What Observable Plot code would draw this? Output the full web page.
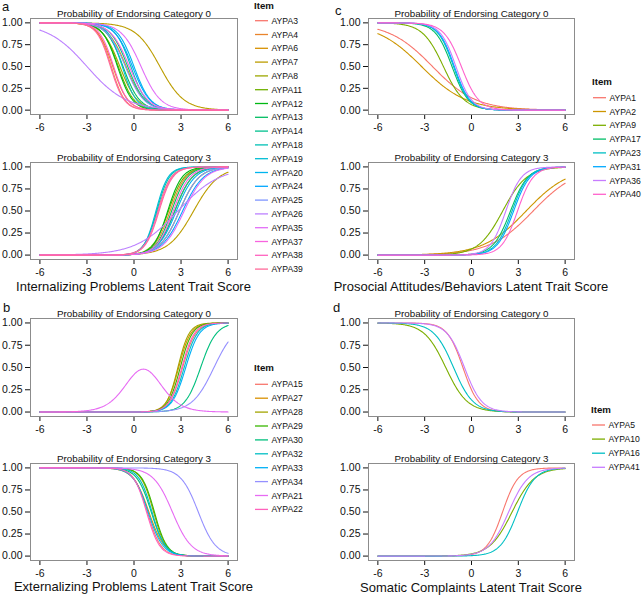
<!DOCTYPE html>
<html><head><meta charset="utf-8">
<script src="https://cdn.jsdelivr.net/npm/d3@7"></script>
<script src="https://cdn.jsdelivr.net/npm/@observablehq/plot@0.6"></script>
<style>
body{margin:0;background:#fff;}
#root{position:relative;width:643px;height:595px;overflow:hidden;font-family:"Liberation Sans",Arial,sans-serif;background:#fff;}
</style></head><body><div id="root"></div>
<script>
// ---------- data: item labels and read-off item parameters (location, slope) ----------
const itemsA = ["AYPA3","AYPA4","AYPA6","AYPA7","AYPA8","AYPA11","AYPA12","AYPA13","AYPA14","AYPA18","AYPA19","AYPA20","AYPA24","AYPA25","AYPA26","AYPA35","AYPA37","AYPA38","AYPA39"];
const aCat0Loc   = [-1.45,-1.35,-0.5,1.65,-0.9,-1.0,-1.05,-0.7,-0.4,-0.2,-0.75,0.0,-0.1,-0.55,-3.0,0.45,-0.3,-1.3,-1.5];
const aCat0Slope = [2.3,2.1,1.7,1.3,1.8,2.0,2.1,1.9,1.8,2.0,2.2,1.9,1.8,1.7,0.8,1.6,1.7,2.2,2.3];
const aCat3Loc   = [1.5,2.3,2.6,3.8,2.9,2.2,2.15,2.4,2.6,1.45,1.4,2.7,3.1,2.9,2.8,3.2,2.5,1.55,1.6];
const aCat3Slope = [2.3,2.0,1.8,1.25,1.6,2.0,2.2,2.0,1.8,2.5,2.6,1.7,1.5,1.6,0.75,1.5,1.9,2.3,2.3];

const itemsB = ["AYPA15","AYPA27","AYPA28","AYPA29","AYPA30","AYPA32","AYPA33","AYPA34","AYPA21","AYPA22"];
const bCat0Loc   = [3.1,2.85,2.8,2.95,4.25,3.2,3.3,5.1,-0.15,3.05];
const bCat0Upper = [null,null,null,null,null,null,null,null,1.35,null];
const bCat0Slope = [2.4,2.6,2.8,2.6,2.0,2.4,2.3,1.45,1.4,2.5];
const bCat3Loc   = [0.85,0.95,1.25,1.3,1.1,1.15,0.9,4.1,2.45,0.8];
const bCat3Slope = [2.3,2.0,2.5,2.5,2.2,2.4,2.1,1.8,1.65,2.4];

const itemsC = ["AYPA1","AYPA2","AYPA9","AYPA17","AYPA23","AYPA31","AYPA36","AYPA40"];
const cCat0Loc   = [-2.5,-3.2,-1.8,-1.25,-1.15,-1.1,-1.0,-0.65];
const cCat0Slope = [0.72,0.7,1.5,1.9,2.0,2.0,2.0,1.8];
const cCat3Loc   = [3.95,3.5,2.0,2.5,2.6,2.7,2.2,2.95];
const cCat3Slope = [0.72,0.73,1.3,1.8,1.9,1.9,2.0,2.0];

const itemsD = ["AYPA5","AYPA10","AYPA16","AYPA41"];
const dCat0Loc   = [-0.55,-1.65,-1.15,-0.45];
const dCat0Slope = [2.0,1.45,1.6,1.8];
const dCat3Loc   = [1.99,2.6,2.95,2.38];
const dCat3Slope = [2.0,1.4,1.8,1.6];

const xTicks = [-6,-3,0,3,6];
const yTicks = [0,0.25,0.5,0.75,1];
const titles = ["Probability of Endorsing Category 0","Probability of Endorsing Category 3"];
const axisTitles = ["Internalizing Problems Latent Trait Score","Externalizing Problems Latent Trait Score","Prosocial Attitudes/Behaviors Latent Trait Score","Somatic Complaints Latent Trait Score"];

// ---------- helpers ----------
function hueColor(h, c, l) { // polar CIE-Luv like R's hcl()
  const Xn=95.047, Yn=100, Zn=108.883;
  const den = Xn + 15*Yn + 3*Zn, un = 4*Xn/den, vn = 9*Yn/den;
  const hr = h*Math.PI/180, U = c*Math.cos(hr), V = c*Math.sin(hr);
  const Y = Yn*(l > 7.999592 ? Math.pow((l+16)/116,3) : l/903.3);
  const u = U/(13*l)+un, v = V/(13*l)+vn;
  const X = 9*Y*u/(4*v), Z = -X/3 - 5*Y + 3*Y/v;
  const x=X/100, y=Y/100, z=Z/100;
  const lin = [3.240479*x-1.537150*y-0.498535*z, -0.969256*x+1.875992*y+0.041556*z, 0.055648*x-0.204043*y+1.057311*z];
  const g = lin.map(t => { t = t<=0.0031308 ? 12.92*t : 1.055*Math.pow(t,1/2.4)-0.055; return Math.round(255*Math.max(0,Math.min(1,t))); });
  return d3.rgb(g[0],g[1],g[2]).formatHex();
}
const huePal = n => d3.range(n).map(i => hueColor(15 + 360*i/n, 100, 65));

const THETA = d3.range(-6, 6.0001, 0.05).map(v => Math.round(v*100)/100);
const sig = z => 1/(1+Math.exp(-z));
function curves(items, loc, slope, dir, upper) {
  const out = [];
  items.forEach((item, i) => {
    for (const t of THETA) {
      let p = sig(dir*slope[i]*(t-loc[i]));
      if (upper && upper[i] != null) p -= sig(slope[i]*(t-upper[i]));
      out.push({item, t, p});
    }
  });
  return out;
}

const root = document.getElementById("root");
function subplot({items, data, x0, x1, y0, y1, left, title}) {
  const top = y0 - 18;
  const width = x1 - left + 6;
  const height = (y1 - top) + 22;
  const p = Plot.plot({
    width, height,
    marginLeft: x0-left, marginRight: width-(x1-left), marginTop: y0-top, marginBottom: height-(y1-top),
    x: {domain:[-6.6,6.6], ticks:xTicks, tickFormat: d => String(d), tickSize:5, tickPadding:4, label:null},
    y: {domain:[-0.05,1.05], ticks:yTicks, tickFormat: d3.format(".2f"), tickSize:5, tickPadding:3, label:null},
    color: {type:"ordinal", domain: items, range: huePal(items.length)},
    style: {fontFamily:"'Liberation Sans', Arial, sans-serif", fontSize:"10.5px", color:"#111", background:"transparent", overflow:"visible"},
    marks: [
      Plot.line(data, {x:"t", y:"p", z:"item", stroke:"item", strokeWidth:1.1}),
      Plot.frame({stroke:"#8c8c8c"}),
      Plot.text([title], {frameAnchor:"top", dy:-8, fontSize:9.8, text:d=>d, fill:"#111"})
    ]
  });
  p.style.position = "absolute"; p.style.left = left+"px"; p.style.top = top+"px";
  root.appendChild(p);
}

const L = {x0:30, x1:237, left:0}, R = {x0:368, x1:574, left:335};
const rows = [[18,114],[162,259],[318,416],[463,560]];

subplot({...L, y0:rows[0][0], y1:rows[0][1], items:itemsA, title:titles[0], data:curves(itemsA,aCat0Loc,aCat0Slope,-1)});
subplot({...L, y0:rows[1][0], y1:rows[1][1], items:itemsA, title:titles[1], data:curves(itemsA,aCat3Loc,aCat3Slope,1)});
subplot({...L, y0:rows[2][0], y1:rows[2][1], items:itemsB, title:titles[0], data:curves(itemsB,bCat0Loc,bCat0Slope,1,bCat0Upper)});
subplot({...L, y0:rows[3][0], y1:rows[3][1], items:itemsB, title:titles[1], data:curves(itemsB,bCat3Loc,bCat3Slope,-1)});
subplot({...R, y0:rows[0][0], y1:rows[0][1], items:itemsC, title:titles[0], data:curves(itemsC,cCat0Loc,cCat0Slope,-1)});
subplot({...R, y0:rows[1][0], y1:rows[1][1], items:itemsC, title:titles[1], data:curves(itemsC,cCat3Loc,cCat3Slope,1)});
subplot({...R, y0:rows[2][0], y1:rows[2][1], items:itemsD, title:titles[0], data:curves(itemsD,dCat0Loc,dCat0Slope,-1)});
subplot({...R, y0:rows[3][0], y1:rows[3][1], items:itemsD, title:titles[1], data:curves(itemsD,dCat3Loc,dCat3Slope,1)});

// ---------- overlay text: panel letters, axis titles, legends ----------
const ns = "http://www.w3.org/2000/svg";
const ov = document.createElementNS(ns, "svg");
ov.setAttribute("width", 643); ov.setAttribute("height", 595);
ov.style.cssText = "position:absolute;left:0;top:0;pointer-events:none;font-family:'Liberation Sans',Arial,sans-serif";
root.appendChild(ov);
function txt(x, y, s, size, opts={}) {
  const t = document.createElementNS(ns, "text");
  t.setAttribute("x", x); t.setAttribute("y", y);
  t.setAttribute("font-size", size); t.setAttribute("fill", opts.fill || "#111");
  t.setAttribute("dominant-baseline", "central");
  if (opts.anchor) t.setAttribute("text-anchor", opts.anchor);
  if (opts.bold) t.setAttribute("font-weight", "bold");
  t.textContent = s; ov.appendChild(t);
}
function seg(x1, x2, y, color) {
  const l = document.createElementNS(ns, "line");
  l.setAttribute("x1", x1); l.setAttribute("x2", x2); l.setAttribute("y1", y); l.setAttribute("y2", y);
  l.setAttribute("stroke", color); l.setAttribute("stroke-width", 1.3); ov.appendChild(l);
}
txt(2, 6, "a", 13); txt(335, 10, "c", 13); txt(3, 307, "b", 13); txt(333, 307, "d", 13);
txt(133.5, 286, axisTitles[0], 13, {anchor:"middle"});
txt(133.5, 586, axisTitles[1], 13, {anchor:"middle"});
txt(471, 286.5, axisTitles[2], 13, {anchor:"middle"});
txt(471, 587, axisTitles[3], 13, {anchor:"middle"});
function legend(items, xKey, yTitle, y0, step) {
  const cols = huePal(items.length);
  txt(xKey-1, yTitle, "Item", 9.7, {bold:true});
  items.forEach((it, i) => {
    const y = y0 + step*i;
    seg(xKey, xKey+13, y, cols[i]);
    txt(xKey+16.5, y, it, 8.6);
  });
}
legend(itemsA, 255, 5.5, 20.7, 13.8);
legend(itemsB, 255, 367.7, 384.3, 13.9);
legend(itemsC, 593, 81, 97.7, 13.8);
legend(itemsD, 592, 409.3, 425, 14.1);
</script></body></html>
